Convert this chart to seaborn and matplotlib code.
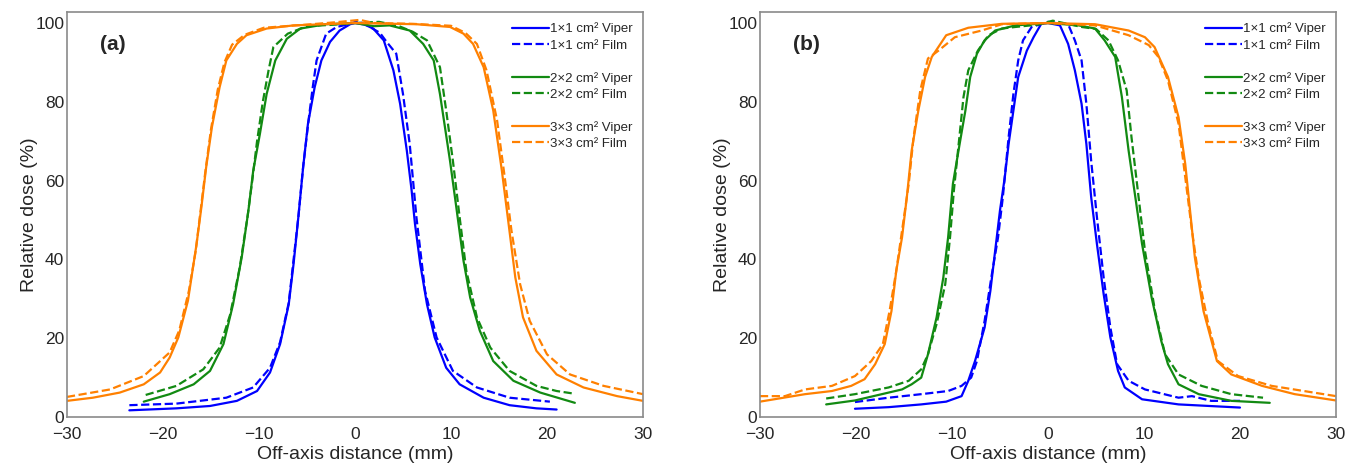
import matplotlib
matplotlib.use("Agg")
import matplotlib.pyplot as plt
from matplotlib.lines import Line2D
from matplotlib.ticker import MultipleLocator
import seaborn as sns

# ---- data ----
# panel (a)
a_viper_1x1_x = [-23.5, -18.6, -15.1, -12.3, -10.2, -8.85, -7.8, -6.9, -6.4, -5.9, -5.4, -4.9, -4.2, -3.5, -2.6,
                 -1.6, -0.5, 0, 1.0, 1.9, 3.0, 4.0, 4.7, 5.4, 5.9, 6.25, 6.8, 7.5, 8.3, 9.5, 10.9, 13.4, 16.1, 18.9, 21.0]
a_viper_1x1_y = [1.7, 2.2, 2.8, 4.1, 6.6, 11.3, 18.5, 28.6, 38.8, 50.7, 63.4, 74.4, 83.7, 90.5, 95.2,
                 98.1, 99.7, 100, 99.6, 98.6, 95.6, 88.0, 79.5, 67.6, 57.5, 49, 38.8, 28.6, 20.2, 12.5, 8.3, 4.9, 3.0, 2.2, 1.9]
a_film_1x1_x = [-23.5, -18.6, -13.4, -10.6, -8.85, -7.8, -6.9, -5.9, -5.4, -4.8, -4.4, -4.0, -3.0, -1.9, -0.5,
                0.3, 1.2, 2.6, 3.3, 4.3, 5.0, 5.7, 6.4, 7.3, 8.5, 10.2, 12.7, 16.1, 20.3]
a_film_1x1_y = [3.0, 3.4, 4.9, 7.5, 12.5, 19, 29, 50.7, 63.5, 76, 83.7, 90.5, 97.3, 99, 99.8,
                100.5, 99.5, 97.5, 95.2, 92.2, 82, 69.3, 50.7, 32, 20.2, 11.7, 7.5, 4.9, 3.9]
a_viper_2x2_x = [-22.0, -19.3, -16.8, -15.1, -13.7, -12.7, -11.8, -11.1, -10.6, -9.9, -9.2, -8.3, -7.1, -5.7, -3.0,
                 0, 2.0, 3.6, 5.7, 7.1, 8.2, 8.85, 9.9, 10.6, 11.3, 12.0, 13.0, 14.4, 16.5, 19.3, 22.9]
a_viper_2x2_y = [3.9, 5.8, 8.3, 11.7, 18.5, 28.6, 40.5, 52.4, 62.5, 71.9, 82.0, 90.5, 96.0, 98.6, 99.7,
                 100, 99.2, 99.4, 98.1, 94.7, 90.5, 82, 65, 52.4, 39.7, 30.3, 21.9, 14.2, 9.2, 6.2, 3.6]
a_film_2x2_x = [-21.8, -18.6, -15.8, -14.1, -13.0, -12.0, -11.2, -10.7, -10.2, -9.6, -9.0, -8.5, -7.0, -5.0, -2.0,
                0, 2.5, 4.5, 6.0, 7.5, 8.85, 9.5, 10.2, 10.9, 11.6, 12.7, 14.1, 16.1, 18.9, 21.0, 22.9]
a_film_2x2_y = [5.6, 7.9, 12.1, 17.6, 26, 38, 50.7, 60, 70, 80, 88, 93.9, 97.3, 99.2, 99.6,
                100, 100.3, 99.3, 97.8, 95.6, 88.8, 77.8, 65, 50.7, 37.1, 25.3, 17.6, 11.7, 7.9, 6.6, 5.9]
a_viper_3x3_x = [-30, -27.3, -24.5, -22.0, -20.3, -19.3, -18.4, -17.4, -16.5, -16.0, -15.5, -14.9, -14.1, -13.4,
                 -12.3, -11.3, -9.2, -6.4, 0, 6.4, 9.9, 11.3, 12.3, 13.4, 14.4, 15.3, 16.0, 16.7, 17.5, 18.9,
                 21.0, 23.8, 27.3, 30.0]
a_viper_3x3_y = [4.1, 4.9, 6.2, 8.3, 11.3, 15.1, 20.2, 29.5, 43.9, 53.2, 63.4, 73.6, 83.7, 90.5,
                 94.7, 96.9, 98.6, 99.4, 100, 99.7, 99.0, 97.3, 94.7, 88.8, 77.8, 62.5, 49, 35.4, 25.3, 16.8,
                 10.8, 7.5, 5.3, 4.1]
a_film_3x3_x = [-30, -25.5, -22.0, -19.3, -18.3, -17.3, -16.6, -16.1, -15.6, -15.0, -14.3, -13.6, -12.8, -11.5,
                -9.5, -5.0, -2.0, 0.5, 2.0, 6.0, 10.0, 11.5, 12.7, 13.7, 14.8, 15.6, 16.3, 17.2, 18.2, 20.0,
                22.4, 25.9, 30.0]
a_film_3x3_y = [5.1, 7.0, 10.4, 16.4, 22, 32, 42, 52, 62, 73, 83, 90, 94.5, 97.0,
                98.8, 99.6, 100.2, 100.8, 100.0, 99.8, 99.3, 97.5, 94.7, 88, 75.3, 60.8, 47.3, 33.7, 24.4, 15.9,
                10.8, 7.9, 5.8]

# panel (b)
b_viper_1x1_x = [-20.1, -16.6, -13.2, -10.6, -9.0, -8.3, -7.6, -6.6, -6.0, -5.5, -5.0, -4.5, -4.1, -3.6, -3.1,
                 -2.2, -1.5, -0.7, 0, 1.25, 2.1, 2.8, 3.5, 4.0, 4.5, 5.1, 5.8, 6.5, 7.3, 8.0, 9.8, 13.6, 20.0]
b_viper_1x1_y = [2.1, 2.5, 3.2, 3.9, 5.3, 9.2, 14.2, 22.7, 32, 42.2, 52.4, 60.8, 69.3, 77.8, 86.3,
                 93, 96.4, 99.8, 100, 99.4, 94.7, 88, 79.5, 69.3, 55.8, 43.9, 31.2, 20.2, 11.7, 7.5, 4.5, 3.2, 2.4]
b_film_1x1_x = [-20.1, -16.6, -13.2, -10.4, -9.0, -8.0, -7.4, -6.6, -5.9, -5.2, -4.7, -4.1, -3.6, -3.1, -2.6,
                -1.7, 0, 1.0, 2.1, 2.8, 3.5, 4.0, 4.5, 5.1, 5.8, 6.5, 7.2, 8.4, 10.1, 13.6, 15.0, 17.0, 20.0]
b_film_1x1_y = [3.8, 4.9, 5.8, 6.6, 7.9, 10.0, 14.2, 24.4, 35.4, 45.6, 55.8, 71, 82, 90.5, 95.6,
                99, 100.3, 100, 99.7, 95.6, 90.5, 79.5, 65, 50.7, 35.4, 22.7, 13.4, 9.2, 7.0, 4.9, 5.3, 4.1, 4.1]
b_viper_2x2_x = [-23.1, -20.1, -17.3, -15.2, -14.2, -13.2, -12.5, -11.6, -10.9, -10.4, -9.9, -9.2, -8.6, -8.1,
                 -7.4, -6.6, -5.5, -3.4, 0, 3.2, 4.9, 5.9, 7.0, 7.7, 8.4, 9.1, 9.8, 10.8, 11.8, 12.5, 13.6,
                 15.7, 19.1, 23.1]
b_viper_2x2_y = [3.2, 4.2, 5.8, 7.0, 8.3, 10.0, 15.9, 25.3, 35.4, 45.6, 59.2, 69.3, 77.8, 86.3,
                 92.2, 95.6, 98.1, 99.4, 100, 99.4, 98.6, 95.6, 91.4, 81.2, 67.6, 55.8, 43.9, 30.3, 19.3, 13.4, 8.3,
                 5.8, 4.1, 3.6]
b_film_2x2_x = [-23.1, -20.1, -16.6, -14.5, -13.2, -12.5, -11.6, -10.7, -10.2, -9.8, -9.3, -8.8, -8.3, -7.3,
                -6.2, -4.8, -3.4, -1.0, 0.5, 2.0, 3.5, 5.0, 6.3, 7.3, 8.2, 8.7, 9.4, 10.1, 11.15, 12.2, 13.6,
                16.0, 19.1, 22.4]
b_film_2x2_y = [4.7, 5.8, 7.5, 9.2, 12.1, 15.9, 23.6, 33.7, 45.6, 57.5, 69.3, 81.2, 88, 93,
                96.9, 98.6, 99, 99.6, 100.6, 99.8, 99.0, 98.5, 95.6, 90.5, 82.9, 71, 56.6, 42.2, 26.9, 15.9, 10.8,
                7.9, 5.8, 4.9]
b_viper_3x3_x = [-30, -25.3, -22.5, -20.5, -19.1, -18.0, -17.0, -16.3, -15.8, -15.2, -14.7, -14.2, -13.5, -12.8,
                 -12.1, -10.6, -8.3, -4.8, 0, 4.9, 8.4, 10.1, 11.1, 12.5, 13.6, 14.3, 14.8, 15.3, 16.2, 17.6,
                 19.1, 22.3, 25.7, 30.0]
b_viper_3x3_y = [3.9, 5.8, 6.6, 7.9, 9.6, 13.4, 18.5, 26.9, 37.1, 45.6, 55.8, 67.6, 77.8, 86.3,
                 91.4, 96.9, 98.8, 99.8, 100, 99.7, 98.1, 96.4, 93.9, 86.3, 76.1, 64.2, 52.4, 40.5, 26.9, 14.2,
                 10.8, 7.9, 5.8, 4.2]
b_film_3x3_x = [-30, -27.4, -25.3, -22.5, -20.1, -18.4, -17.2, -16.5, -15.8, -15.1, -14.5, -14.0, -13.3, -12.5,
                -11.4, -9.7, -6.9, -4.8, 0, 4.9, 8.4, 10.5, 11.5, 12.5, 13.6, 14.3, 15.0, 15.7, 16.7, 17.7,
                19.8, 23.3, 30.0]
b_film_3x3_y = [5.3, 5.3, 7.0, 7.9, 10.4, 14.2, 18.5, 26.9, 37.1, 49, 59.2, 71, 82.9, 91,
                93, 96.4, 98.1, 99.7, 100, 99.4, 96.9, 94.4, 91.4, 85.4, 74.4, 60.8, 47.3, 35.4, 23.6, 14.2,
                10.4, 7.9, 5.3]

fields = ["1\u00d71", "2\u00d72", "3\u00d73"]
colors = ["#0000ff", "#128a12", "#ff8000"]

panels = {
    "(a)": [(a_viper_1x1_x, a_viper_1x1_y, a_film_1x1_x, a_film_1x1_y),
            (a_viper_2x2_x, a_viper_2x2_y, a_film_2x2_x, a_film_2x2_y),
            (a_viper_3x3_x, a_viper_3x3_y, a_film_3x3_x, a_film_3x3_y)],
    "(b)": [(b_viper_1x1_x, b_viper_1x1_y, b_film_1x1_x, b_film_1x1_y),
            (b_viper_2x2_x, b_viper_2x2_y, b_film_2x2_x, b_film_2x2_y),
            (b_viper_3x3_x, b_viper_3x3_y, b_film_3x3_x, b_film_3x3_y)],
}

sns.set_style("white")
plt.rcParams["font.family"] = ["Liberation Sans", "DejaVu Sans"]

fig = plt.figure(figsize=(13.58, 4.65), dpi=100)
ax_a = fig.add_axes([0.0493, 0.1032, 0.4242, 0.871])
ax_b = fig.add_axes([0.5596, 0.1032, 0.4242, 0.871])

for ax, (tag, series) in zip([ax_a, ax_b], panels.items()):
    for field, col, (vx, vy, fx, fy) in zip(fields, colors, series):
        sns.lineplot(x=vx, y=vy, ax=ax, color=col, lw=1.6, sort=False, estimator=None,
                     label=f"{field} cm\u00b2 Viper")
        sns.lineplot(x=fx, y=fy, ax=ax, color=col, lw=1.6, sort=False, estimator=None,
                     linestyle="--", label=f"{field} cm\u00b2 Film")

    ax.set_xlim(-30, 30)
    ax.set_ylim(0, 102.8)
    ax.xaxis.set_major_locator(MultipleLocator(10))
    ax.xaxis.set_minor_locator(MultipleLocator(2))
    ax.yaxis.set_major_locator(MultipleLocator(20))
    ax.yaxis.set_minor_locator(MultipleLocator(5))
    ax.tick_params(axis="both", which="both", color="#8a8a8a",
                   labelsize=12.5, top=False, right=False)
    ax.tick_params(axis="x", which="both", direction="in", length=3.5, width=0.9, pad=7)
    ax.tick_params(axis="y", which="major", direction="out", length=4, width=0.9, pad=-2)
    ax.tick_params(axis="y", which="minor", direction="in", length=3, width=0.8)
    for sp in ax.spines.values():
        sp.set_color("#8a8a8a")
        sp.set_linewidth(1.2)
    ax.set_xlabel("Off-axis distance (mm)", fontsize=14, labelpad=3)
    ax.set_ylabel("Relative dose (%)", fontsize=14, labelpad=-2)
    ax.text(-26.6, 94.5, tag, fontsize=15, fontweight="bold", va="center")

    h, l = ax.get_legend_handles_labels()
    blank = Line2D([], [], color="none")
    handles = [h[0], h[1], blank, h[2], h[3], blank, h[4], h[5]]
    labels = [l[0], l[1], " ", l[2], l[3], " ", l[4], l[5]]
    ax.legend(handles, labels, loc="upper right", frameon=False, fontsize=9.5,
              handlelength=2.8, handletextpad=0.1, labelspacing=0.3,
              borderaxespad=0.3, borderpad=0.5)

fig.savefig("out.png", dpi=100)
